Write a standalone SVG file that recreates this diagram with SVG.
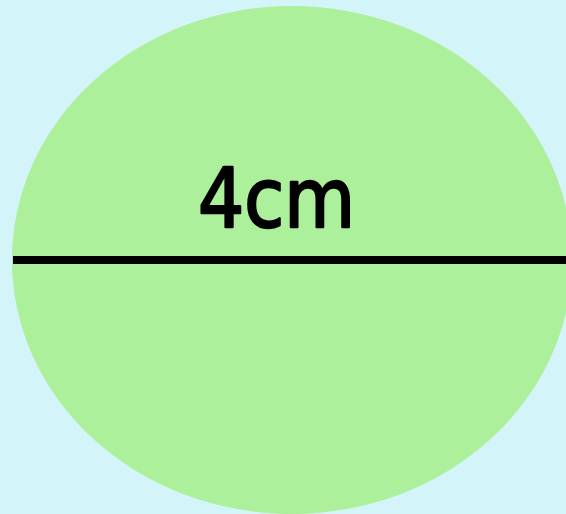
<svg xmlns="http://www.w3.org/2000/svg" width="566" height="514" viewBox="0 0 566 514">
<style>
.bg{fill:#d3f4f8}
.disc{fill:#adf09b}
.lbl{font-family:"DejaVu Sans","Noto Sans",sans-serif;font-size:82px;fill:#000;stroke:#000;stroke-width:2.5;stroke-linejoin:round}
</style>
<rect class="bg" x="0" y="0" width="566" height="514"/>
<g id="circle">
<ellipse class="disc" cx="292" cy="260" rx="280" ry="254"/>
</g>
<g id="connectors">
<line x1="13" y1="260" x2="566" y2="260" stroke="#000" stroke-width="8"/>
</g>
<g id="label">
<text class="lbl" x="198" y="227" textLength="157" lengthAdjust="spacingAndGlyphs">4cm</text>
</g>
</svg>
